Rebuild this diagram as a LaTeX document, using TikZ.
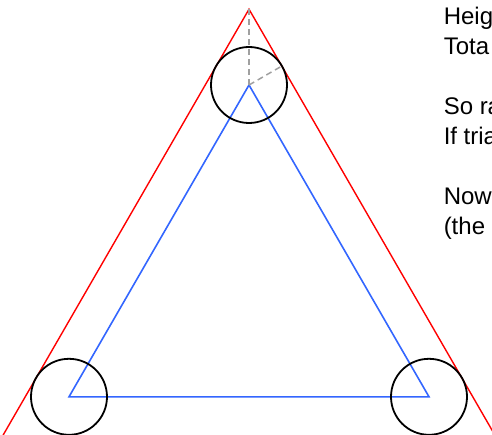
\documentclass[tikz,border=0pt]{standalone}
\usepackage{fontspec}
\setmainfont{Liberation Sans}
\usetikzlibrary{calc}
\definecolor{triblue}{RGB}{51,102,255}
\definecolor{helpgray}{RGB}{160,160,160}

\begin{document}
\begin{tikzpicture}[x=1pt, y=-1pt, line width=1.5pt,
    every node/.style={font=\fontsize{24}{30}\selectfont, inner sep=0pt, anchor=base west}]
	\useasboundingbox (0,0) rectangle (492,435);
	
	% 内三角形的顶点 (圆心)
	\coordinate (ctop) at (249,85);
	\coordinate (cleft) at (69,396.8);
	\coordinate (cright) at (429,396.8);
	
	% 外三角形 (底边在图外)
	\coordinate (apex) at (249,9.2);
	\draw[red, line width=1.4pt] (-2.6,445) -- (apex) -- (500.6,445);
	
	% 内三角形
	\draw[triblue, line width=1.6pt] (ctop) -- (cleft) -- (cright) -- cycle;
	
	% 三个圆, 半径 38
	\draw[black, line width=1.8pt] (ctop) circle (38);
	\draw[black, line width=1.8pt] (cleft) circle (38);
	\draw[black, line width=1.8pt] (cright) circle (38);
	
	% 辅助线: 到顶点, 到切点
	\coordinate (touch) at ($(ctop)+(32.9,-19)$);
	\draw[helpgray, dash pattern=on 6pt off 4pt] (ctop) -- (apex);
	\draw[helpgray, dash pattern=on 6pt off 4pt] (ctop) -- (touch);
	
	% 右侧文字 (被截断)
	\node (l1) at (443,25) {Heig};
	\node (l2) at (443,55) {Tota};
	\node (l3) at (443,115) {So ra};
	\node (l4) at (443,145) {If tria};
	\node (l5) at (443,205) {Now};
	\node (l6) at (443,235) {(the};
\end{tikzpicture}
\end{document}
